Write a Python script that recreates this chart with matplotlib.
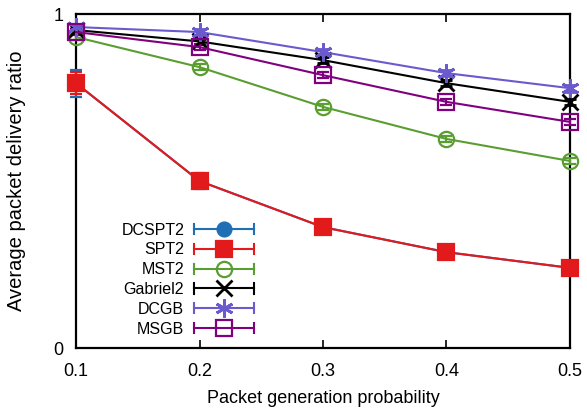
import matplotlib
matplotlib.use('Agg')
import matplotlib.pyplot as plt
from matplotlib.lines import Line2D
from matplotlib.legend_handler import HandlerLine2D

plt.rcParams['font.family'] = ['Liberation Sans', 'DejaVu Sans']

# data
x = [0.1, 0.2, 0.3, 0.4, 0.5]
dcspt2 = [0.793, 0.500, 0.362, 0.287, 0.240]
dcspt2_err = [0.040, 0.025, 0.022, 0.016, 0.013]
spt2 = [0.793, 0.500, 0.362, 0.287, 0.240]
spt2_err = [0.032, 0.020, 0.016, 0.012, 0.010]
mst2 = [0.931, 0.841, 0.722, 0.626, 0.560]
mst2_err = [0.010, 0.010, 0.010, 0.010, 0.010]
gabriel2 = [0.952, 0.918, 0.862, 0.793, 0.737]
gabriel2_err = [0.008, 0.008, 0.008, 0.008, 0.008]
dcgb = [0.961, 0.946, 0.886, 0.823, 0.778]
dcgb_err = [0.010, 0.010, 0.010, 0.010, 0.010]
msgb = [0.946, 0.901, 0.817, 0.737, 0.677]
msgb_err = [0.010, 0.010, 0.010, 0.010, 0.010]

series = [
    ('DCSPT2', dcspt2, dcspt2_err, '#1f6fb5', 'o', 'full', 10),
    ('SPT2', spt2, spt2_err, '#e31a1c', 's', 'full', 11),
    ('MST2', mst2, mst2_err, '#5a9e32', 'o', 'none', 11),
    ('Gabriel2', gabriel2, gabriel2_err, 'black', 'x', 'none', 11),
    ('DCGB', dcgb, dcgb_err, '#6a5acd', '*', 'none', 13),
    ('MSGB', msgb, msgb_err, '#800080', 's', 'none', 12),
]


class CapHandler(HandlerLine2D):
    # gnuplot-like key sample: line with vertical caps at both ends
    def create_artists(self, legend, orig_handle, xdescent, ydescent,
                       width, height, fontsize, trans):
        arts = super().create_artists(legend, orig_handle, xdescent, ydescent,
                                      width, height, fontsize, trans)
        c = orig_handle.get_color()
        y0 = height / 2 - ydescent
        h = height * 0.45
        for xx in (-xdescent, -xdescent + width):
            cap = Line2D([xx, xx], [y0 - h, y0 + h], color=c, lw=1.5)
            cap.set_transform(trans)
            arts.append(cap)
        return arts


fig = plt.figure(figsize=(5.87, 4.15), dpi=100)
ax = fig.add_axes([0.1295, 0.1614, 0.8415, 0.8048])

handles = []
for name, vals, err, col, mk, fill, ms in series:
    mew = 2.0 if mk in ('x', '*') else 1.6
    if mk == '*':
        mk = (6, 2, 0)
    ax.errorbar(x, vals, yerr=err, color=col, marker=mk, fillstyle=fill,
                markersize=ms, markeredgewidth=mew, lw=1.5, capsize=4,
                elinewidth=1.5, capthick=1.5, clip_on=False, zorder=3)
    handles.append(Line2D([], [], color=col, marker=mk, fillstyle=fill,
                          markersize=ms, markeredgewidth=mew, lw=1.5, label=name))

ax.set_xlim(0.1, 0.5)
ax.set_ylim(0, 1)
ax.set_xticks([0.1, 0.2, 0.3, 0.4, 0.5])
ax.set_yticks([0, 1])
ax.set_xticklabels(['0.1', '0.2', '0.3', '0.4', '0.5'])
ax.tick_params(direction='in', length=6, width=1.2, labelsize=13,
               top=True, right=True)
ax.tick_params(axis='x', pad=11)
ax.tick_params(axis='y', pad=9)
for s in ax.spines.values():
    s.set_linewidth(1.6)

ax.set_xlabel('Packet generation probability', fontsize=13, labelpad=7)
ax.set_ylabel('Average packet delivery ratio', fontsize=14.5, labelpad=20)

ax.legend(handles=handles, loc='lower left', bbox_to_anchor=(0.0625, -0.009),
          frameon=False, markerfirst=False, fontsize=11.5, handlelength=3.75,
          handletextpad=0.6, labelspacing=0.3,
          handler_map={Line2D: CapHandler()})

fig.savefig('out.png', dpi=100)
